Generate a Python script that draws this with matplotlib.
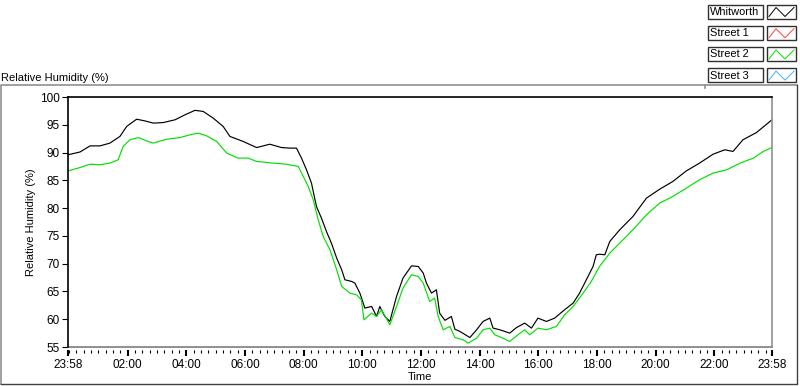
import numpy as np
import matplotlib
matplotlib.use("Agg")
import matplotlib.pyplot as plt
from matplotlib.patches import Rectangle
from matplotlib.lines import Line2D

plt.rcParams['font.family'] = ['Liberation Sans', 'DejaVu Sans']
plt.rcParams['font.size'] = 8

# hours after 23:58 (start of record) and relative humidity (%)
whitworth_t = [0.00, 0.41, 0.75, 1.09, 1.43, 1.77, 2.00, 2.34, 2.62, 2.91,
               3.25, 3.65, 3.99, 4.33, 4.61, 4.95, 5.29, 5.52, 5.97, 6.43,
               6.88, 7.28, 7.56, 7.79, 7.96, 8.13, 8.30, 8.47, 8.64, 8.81,
               8.98, 9.16, 9.33, 9.44, 9.67, 9.78, 9.95, 10.12, 10.35, 10.52,
               10.63, 10.80, 10.97, 11.20, 11.42, 11.71, 11.94, 12.11, 12.22, 12.39,
               12.56, 12.67, 12.85, 13.07, 13.19, 13.36, 13.70, 13.93, 14.15, 14.38,
               14.49, 14.72, 15.06, 15.29, 15.57, 15.80, 16.02, 16.31, 16.59, 16.93,
               17.22, 17.44, 17.67, 17.90, 18.01, 18.12, 18.30, 18.47, 18.81, 19.26,
               19.72, 20.17, 20.62, 21.08, 21.53, 21.99, 22.39, 22.67, 23.01, 23.47,
               24.00]
whitworth_rh = [89.6, 90.1, 91.2, 91.2, 91.7, 92.9, 94.7, 96.0, 95.7, 95.3,
                95.4, 95.9, 96.8, 97.6, 97.4, 96.2, 94.7, 92.9, 92.0, 90.9,
                91.5, 90.9, 90.8, 90.8, 89.0, 86.9, 84.5, 80.3, 78.2, 75.8,
                73.7, 71.0, 68.9, 67.1, 66.8, 66.5, 64.7, 62.0, 62.3, 60.5,
                62.3, 60.5, 59.6, 64.1, 67.4, 69.6, 69.5, 68.3, 66.5, 64.7,
                65.3, 61.1, 59.8, 60.5, 58.2, 57.8, 56.7, 58.1, 59.6, 60.2,
                58.4, 58.1, 57.5, 58.5, 59.3, 58.4, 60.2, 59.6, 60.2, 61.7,
                62.9, 64.7, 67.1, 69.5, 71.6, 71.7, 71.6, 74.0, 76.1, 78.5,
                81.8, 83.4, 84.8, 86.7, 88.1, 89.7, 90.5, 90.2, 92.3, 93.6,
                95.9]

street2_t = [0.00, 0.41, 0.75, 1.09, 1.43, 1.71, 1.88, 2.11, 2.40, 2.68,
             2.91, 3.36, 3.82, 4.16, 4.44, 4.73, 5.07, 5.41, 5.80, 6.14,
             6.43, 7.00, 7.45, 7.85, 8.02, 8.19, 8.36, 8.53, 8.70, 8.93,
             9.16, 9.33, 9.61, 9.84, 10.00, 10.09, 10.35, 10.52, 10.69, 10.97,
             11.20, 11.42, 11.71, 11.94, 12.11, 12.33, 12.50, 12.62, 12.79, 13.02,
             13.19, 13.47, 13.64, 13.93, 14.15, 14.38, 14.55, 14.78, 15.06, 15.34,
             15.57, 15.74, 16.02, 16.31, 16.65, 16.93, 17.22, 17.56, 17.84, 18.12,
             18.47, 18.81, 19.26, 19.72, 20.17, 20.62, 21.08, 21.53, 21.99, 22.46,
             22.91, 23.37, 23.70, 24.00]
street2_rh = [86.7, 87.3, 87.9, 87.8, 88.1, 88.7, 91.1, 92.3, 92.7, 92.1,
              91.7, 92.4, 92.7, 93.2, 93.5, 93.0, 92.0, 89.9, 89.0, 89.0,
              88.4, 88.1, 87.9, 87.5, 85.7, 83.9, 81.5, 77.9, 74.9, 72.5,
              68.9, 65.9, 64.7, 64.4, 63.5, 59.9, 61.1, 60.5, 61.7, 59.0,
              62.3, 65.6, 68.0, 67.7, 66.5, 63.2, 63.8, 60.5, 58.1, 58.7,
              56.7, 56.3, 55.7, 56.6, 58.1, 58.4, 57.2, 56.7, 56.0, 57.2,
              58.1, 57.2, 58.4, 58.1, 58.7, 60.8, 62.3, 64.7, 66.8, 69.5,
              71.9, 73.7, 76.1, 78.8, 80.9, 82.1, 83.6, 85.1, 86.3, 86.9,
              88.1, 89.0, 90.2, 90.9]

legend_names = ['Whitworth', 'Street 1', 'Street 2', 'Street 3']
legend_colors = ['#000000', '#ff4040', '#00e000', '#40b0ff']

tick_labels = ['23:58', '02:00', '04:00', '06:00', '08:00', '10:00', '12:00',
               '14:00', '16:00', '18:00', '20:00', '22:00', '23:58']

W, H = 800, 386
fig = plt.figure(figsize=(W / 100, H / 100), dpi=100)

# outer panel frame + legend drawn in pixel coords
bg = fig.add_axes([0, 0, 1, 1])
bg.set_xlim(0, W)
bg.set_ylim(H, 0)
bg.axis('off')
bg.plot([1, 1, 705], [384, 85, 85], color='#909090', lw=1.2)
bg.plot([705, 705, 797], [88, 85, 85], color='#909090', lw=1.2)
bg.plot([1, 797, 797], [384, 384, 85], color='#404040', lw=1.0)
bg.text(1, 78, 'Relative Humidity (%)', ha='left', va='center', fontsize=8)

for i, (name, col) in enumerate(zip(legend_names, legend_colors)):
    y0 = 4.5 + i * 21.2
    bg.add_patch(Rectangle((708, y0), 55, 14, fill=False, ec='#303030', lw=1.0))
    bg.text(710, y0 + 7.5, name, ha='left', va='center', fontsize=7.9)
    bg.add_patch(Rectangle((767, y0), 29, 14, fill=False, ec='#303030', lw=1.0))
    bg.add_line(Line2D([769, 776, 785, 794], [y0 + 12, y0 + 3, y0 + 12, y0 + 3],
                       color=col, lw=0.7))

ax = fig.add_axes([68 / W, 1 - 347 / H, 704 / W, 250 / H])
ax.plot(whitworth_t, whitworth_rh, color='black', lw=0.85)
ax.plot(street2_t, street2_rh, color='#00e000', lw=0.85)

ax.set_xlim(0, 24)
ax.set_ylim(55, 100)
ax.set_yticks(np.arange(55, 101, 5))
ax.set_xticks([0] + [2 * k + 2 / 60 for k in range(1, 12)] + [24])
ax.set_xticklabels(tick_labels)
ax.set_xticks(np.arange(2 / 60, 24, 0.25), minor=True)

for s in ['left', 'top']:
    ax.spines[s].set_color('black')
    ax.spines[s].set_linewidth(1.2)
ax.spines['right'].set_color('#909090')
ax.spines['right'].set_linewidth(1.2)
ax.spines['bottom'].set_position(('outward', 2))
ax.spines['bottom'].set_visible(False)
ax.axhline(55, color='#909090', lw=1.4, clip_on=False)

ax.tick_params(axis='y', direction='out', length=4.5, width=0.8, pad=1.5,
               labelsize=8.5)
ax.tick_params(axis='x', which='major', direction='out', length=4, width=1.5,
               pad=2.5, labelsize=8.5)
ax.tick_params(axis='x', which='minor', direction='out', length=2.5, width=0.8)

ax.set_ylabel('Relative Humidity (%)', fontsize=8, labelpad=3)
ax.set_xlabel('Time', fontsize=8, labelpad=1)

fig.savefig('out.png', dpi=100)
